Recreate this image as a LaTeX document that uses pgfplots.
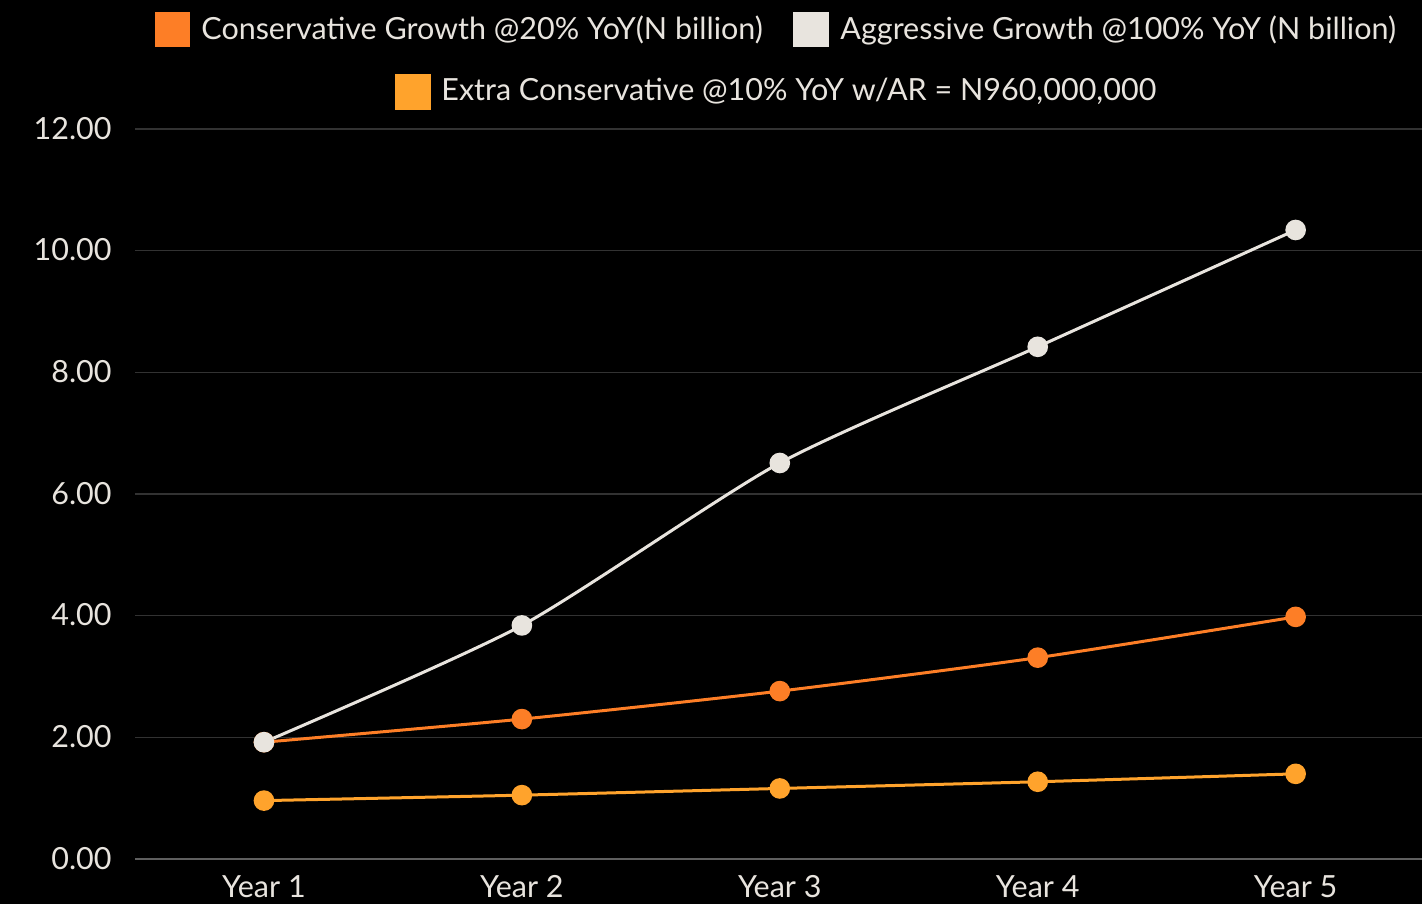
\documentclass[border=0pt]{standalone}
\usepackage{pgfplots}
\pgfplotsset{compat=1.18}
\usepackage{fontspec}
\setmainfont{Lato}
\definecolor{cons}{RGB}{253,126,38}
\definecolor{aggr}{RGB}{232,228,222}
\definecolor{extra}{RGB}{255,163,44}
\definecolor{txt}{RGB}{232,228,222}
\definecolor{gridc}{RGB}{50,50,50}
\definecolor{basec}{RGB}{95,95,95}
\newcommand{\lfont}{\fontsize{15.25}{18}\selectfont}
\begin{document}
\begin{tikzpicture}
\fill[black] (0,0) rectangle (711pt,-452pt);
\begin{scope}[x=0.5pt,y=-0.5pt]
\fill[cons] (155,12) rectangle (190,47);
\node[anchor=base west,inner sep=0pt,text=txt,font=\lfont] at (201,40) {Conservative Growth @20\% YoY(N billion)};
\fill[aggr] (793,12) rectangle (829,47);
\node[anchor=base west,inner sep=0pt,text=txt,font=\lfont] at (840,40) {Aggressive Growth @100\% YoY (N billion)};
\fill[extra] (395,74) rectangle (431,110);
\node[anchor=base west,inner sep=0pt,text=txt,font=\lfont] at (441,101) {Extra Conservative @10\% YoY w/AR = N960,000,000};
\end{scope}
\begin{axis}[
  at={(67.5pt,-429.5pt)}, anchor=south west, scale only axis,
  width=643.5pt, height=365pt,
  xmin=-0.5, xmax=4.49, ymin=0, ymax=12,
  xtick={0,1,2,3,4}, xticklabels={Year 1,Year 2,Year 3,Year 4,Year 5},
  ytick={0,2,4,6,8,10,12},
  axis line style={draw=none}, major tick length=0pt,
  ymajorgrids, grid style={gridc, line width=0.6pt},
  tick label style={text=txt, font=\lfont, inner sep=0pt},
  /pgf/number format/assume math mode=true,
  yticklabel style={/pgf/number format/.cd, fixed, fixed zerofill, precision=2, /tikz/.cd, anchor=base east, xshift=-11.5pt, yshift=-5pt},
  xticklabel style={anchor=base, yshift=-19pt},
  clip=false,
]
\draw[basec, line width=0.8pt] (axis cs:-0.5,0) -- (axis cs:4.49,0);
\addplot[cons, line width=1.5pt, smooth, tension=0.4, mark=*, mark size=4.4pt, mark options={fill=cons, draw=cons}] coordinates {(0,1.92) (1,2.30) (2,2.76) (3,3.31) (4,3.98)};
\addplot[extra, line width=1.5pt, smooth, tension=0.4, mark=*, mark size=4.4pt, mark options={fill=extra, draw=extra}] coordinates {(0,0.96) (1,1.05) (2,1.16) (3,1.27) (4,1.40)};
\addplot[aggr, line width=1.5pt, smooth, tension=0.4, mark=*, mark size=4.4pt, mark options={fill=aggr, draw=aggr}] coordinates {(0,1.92) (1,3.84) (2,6.51) (3,8.42) (4,10.34)};
\end{axis}
\pgfresetboundingbox
\useasboundingbox (0,0) rectangle (711pt,-452pt);
\end{tikzpicture}
\end{document}
